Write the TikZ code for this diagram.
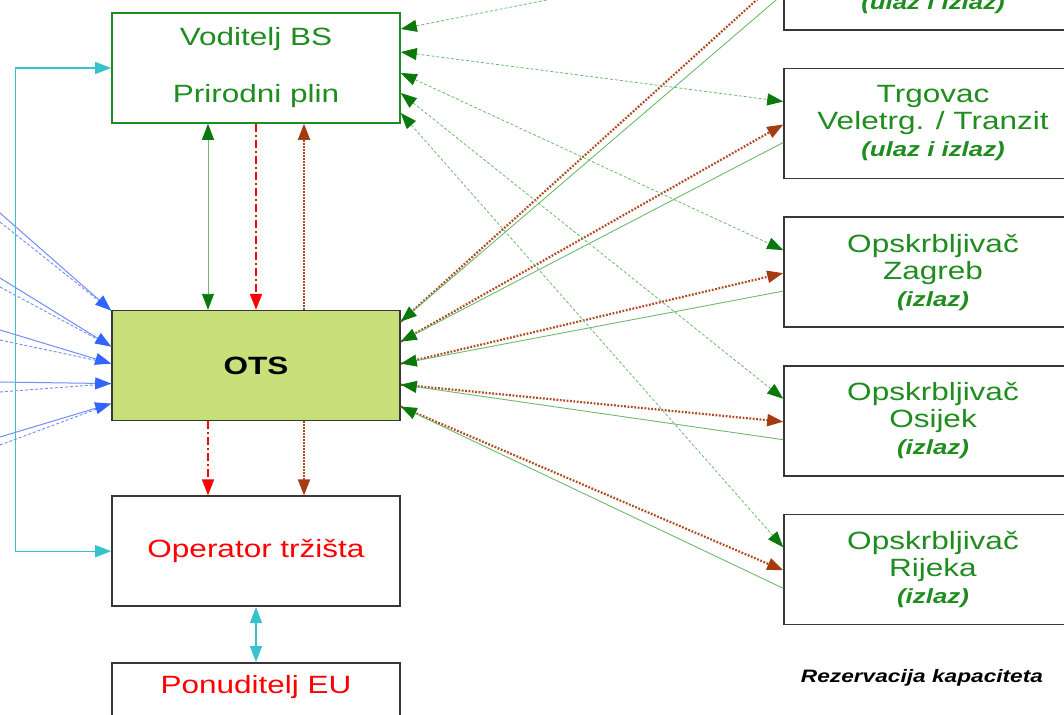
\documentclass[tikz,border=0pt]{standalone}
\usepackage{fontspec}
\setmainfont{Liberation Sans}[FakeStretch=1.26]
\usetikzlibrary{arrows.meta, positioning}

\definecolor{vodgreen}{RGB}{30,140,30}
\definecolor{tipgreen}{RGB}{10,120,10}
\definecolor{linegreen}{RGB}{110,185,110}
\definecolor{brownline}{RGB}{175,75,35}
\definecolor{browntip}{RGB}{165,60,15}
\definecolor{otsfill}{RGB}{200,224,122}
\definecolor{boxgray}{RGB}{55,55,55}
\definecolor{cyanline}{RGB}{55,195,205}
\definecolor{bluetip}{RGB}{50,100,255}
\definecolor{blueline}{RGB}{115,140,250}

\newcommand{\subnote}[1]{{\fontsize{20.5}{27}\selectfont\bfseries\itshape #1}}

\begin{document}
\begin{tikzpicture}[
    x=1pt, y=-1pt,
    box/.style={draw=boxgray, line width=1.6pt, minimum width=288pt, minimum height=110pt, inner sep=0pt, align=center, font=\fontsize{25}{27}\selectfont},
    rbox/.style={box, minimum width=298pt, text=vodgreen},
    bluearr/.style={draw=blueline, line width=1pt, -{Triangle[length=16pt, width=12pt, color=bluetip]}},
    bluedash/.style={draw=blueline, line width=0.9pt, dash pattern=on 3pt off 2pt},
    gasdash/.style={draw=linegreen, line width=0.8pt, dash pattern=on 3pt off 2pt, {Triangle[length=16pt, width=12pt, color=tipgreen]}-{Triangle[length=16pt, width=12pt, color=tipgreen]}},
    greenarr/.style={draw=linegreen, line width=0.9pt, -{Triangle[length=16pt, width=12pt, color=tipgreen]}},
    greenboth/.style={draw=linegreen, line width=0.9pt, {Triangle[length=16pt, width=12pt, color=tipgreen]}-{Triangle[length=16pt, width=12pt, color=tipgreen]}},
    brownarr/.style={draw=brownline, line width=2.2pt, dash pattern=on 1.8pt off 1.6pt, -{Triangle[length=16pt, width=12pt, color=browntip]}},
    brownv/.style={draw=brownline, line width=1.8pt, dash pattern=on 1.6pt off 1.4pt, -{Triangle[length=16pt, width=12pt, color=browntip]}},
    reddash/.style={draw=red, line width=1.8pt, dash pattern=on 8pt off 3pt on 2pt off 3pt, -{Triangle[length=16pt, width=12pt, color=red]}},
    cyanarr/.style={draw=cyanline, line width=1.4pt, {Triangle[length=16pt, width=12pt, color=cyanline]}-{Triangle[length=16pt, width=12pt, color=cyanline]}}
]
    \useasboundingbox (0,0) rectangle (1064,714);
    \clip (0,0) rectangle (1064,714);

    % Left column
    \node[box, draw=vodgreen, text=vodgreen] (vod) at (256,68) {Voditelj BS\\[30pt]Prirodni plin};
    \node[box, fill=otsfill, font=\fontsize{25}{27}\selectfont\bfseries, below=186pt of vod] (ots) {OTS};
    \node[box, text=red, below=74pt of ots] (opt) {Operator tržišta};
    \node[box, below=55pt of opt, label={[text=red, font=\fontsize{25}{27}\selectfont, anchor=north, yshift=-10pt]north:Ponuditelj EU}] (pon) {};

    % Right column
    \node[rbox] (trg) at (933,123.5) {Trgovac\\Veletrg. / Tranzit\\\subnote{(ulaz i izlaz)}};
    \node[rbox, above=37pt of trg] (top) {\strut\\\strut\\\subnote{(ulaz i izlaz)}};
    \node[rbox, below=37pt of trg] (zag) {Opskrbljivač\\Zagreb\\\subnote{(izlaz)}};
    \node[rbox, below=37pt of zag] (osi) {Opskrbljivač\\Osijek\\\subnote{(izlaz)}};
    \node[rbox, below=37pt of osi] (rij) {Opskrbljivač\\Rijeka\\\subnote{(izlaz)}};

    \node[font=\fontsize{18}{20}\selectfont\bfseries\itshape] (rez) at (922,678) {Rezervacija kapaciteta};

    % Inputs from the left
    \foreach \i/\ys/\yd/\t in {1/213/222/55, 2/278/287/19, 3/330/340/2, 4/382/392/-18, 5/437/445/-38} {
        \coordinate (ins\i) at (0,\ys);
        \coordinate (ind\i) at (0,\yd);
        \draw[bluedash] (ind\i) -- ([yshift=\t pt]ots.west);
        \draw[bluearr] (ins\i) -- ([yshift=\t pt]ots.west);
    }

    % Voditelj - OTS - Operator
    \draw[greenboth] ([xshift=-48pt]vod.south) -- ([xshift=-48pt]ots.north);
    \draw[reddash] (vod.south) -- (ots.north);
    \draw[brownv] ([xshift=48pt]ots.north) -- ([xshift=48pt]vod.south);
    \draw[reddash] ([xshift=-48pt]ots.south) -- ([xshift=-48pt]opt.north);
    \draw[brownv] ([xshift=48pt]ots.south) -- ([xshift=48pt]opt.north);
    \draw[cyanarr] (opt.south) -- (pon.north);
    \draw[cyanarr] (vod.west) -- ++(-96,0) |- (opt.west);

    % Links to the right column
    \foreach \b/\v/\o in {top/39/44, trg/16/24, zag/-5/2, osi/-25/-19, rij/-45/-41} {
        \draw[gasdash] ([yshift=\v pt]vod.east) -- ([yshift=22pt]\b.west);
        \draw[brownarr] ([yshift=\o pt]ots.east) -- ([yshift=-1pt]\b.west);
        \draw[greenarr] ([yshift=-19pt]\b.west) -- ([yshift=\o pt]ots.east);
    }

\end{tikzpicture}
\end{document}
